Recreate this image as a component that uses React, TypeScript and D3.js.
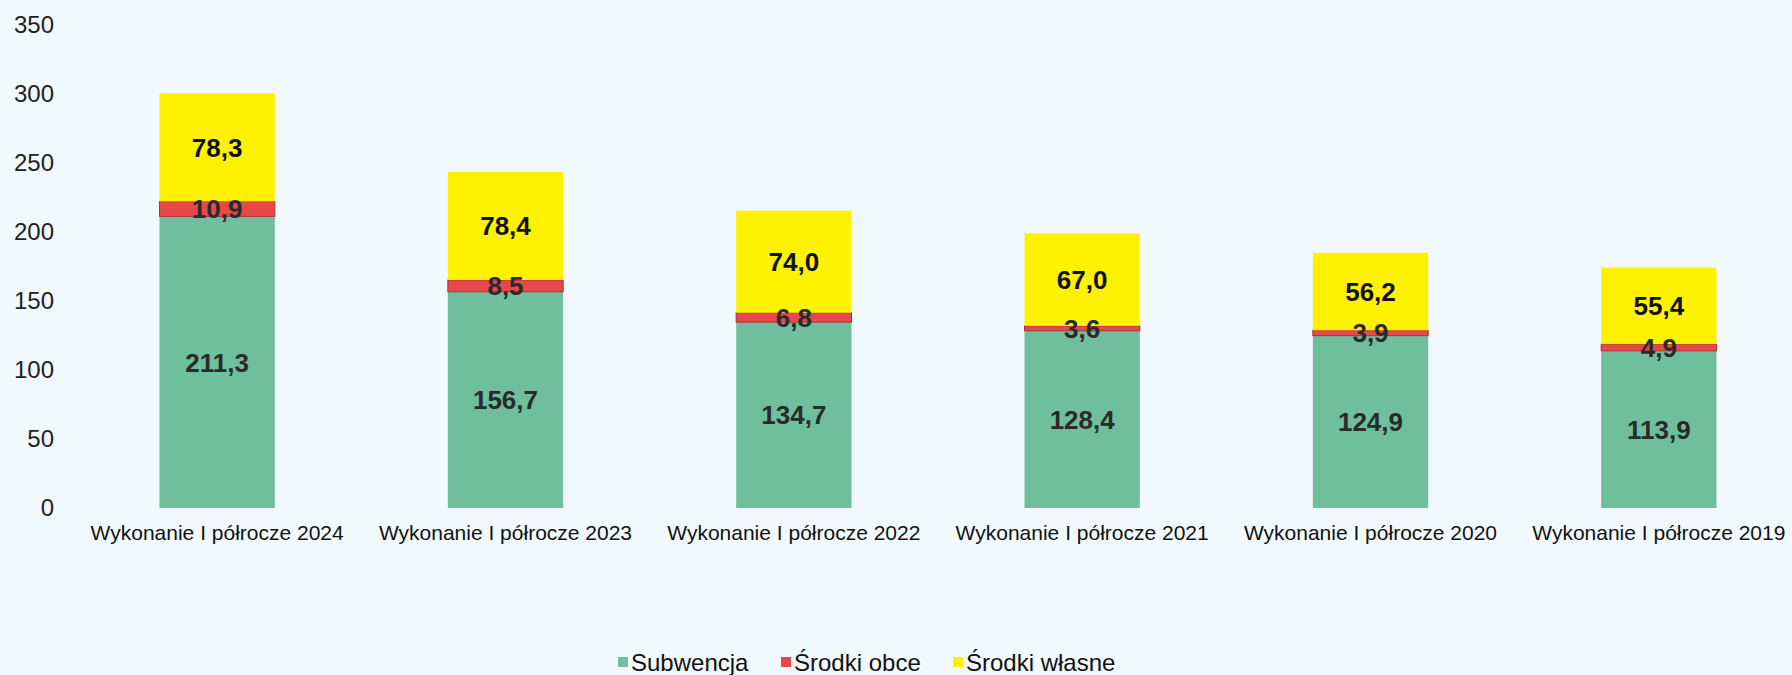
import React from "react";
import * as d3 from "d3";

const categories = [
  "Wykonanie I półrocze 2024",
  "Wykonanie I półrocze 2023",
  "Wykonanie I półrocze 2022",
  "Wykonanie I półrocze 2021",
  "Wykonanie I półrocze 2020",
  "Wykonanie I półrocze 2019",
];
const subwencja = [211.3, 156.7, 134.7, 128.4, 124.9, 113.9];
const srodkiObce = [10.9, 8.5, 6.8, 3.6, 3.9, 4.9];
const srodkiWlasne = [78.3, 78.4, 74.0, 67.0, 56.2, 55.4];
const yTicks = [0, 50, 100, 150, 200, 250, 300, 350];

const seriesNames = ["Subwencja", "Środki obce", "Środki własne"];
const seriesColors = ["#6fbf9f", "#e8484a", "#fff200"];

const W = 1792;
const H = 675;
const FONT = "'Liberation Sans', Arial, sans-serif";

export default function App() {
  const x = d3.scaleBand<string>().domain(categories).range([73, 1803]).paddingInner(0.6).paddingOuter(0.3);
  const y = d3.scaleLinear().domain([0, 350]).range([508, 25]);
  const rows = categories.map((c, i) => ({
    cat: c,
    s0: subwencja[i],
    s1: srodkiObce[i],
    s2: srodkiWlasne[i],
  }));
  const stack = d3.stack<any>().keys(["s0", "s1", "s2"]);
  const series = stack(rows);
  const fmt = (v: number) => d3.format(".1f")(v).replace(".", ",");
  const legendX = [618, 781, 953];

  return (
    <svg width={W} height={H} style={{ position: "absolute", left: 0, top: 0, background: "#f2f9fc" }}>
      <rect x={0} y={0} width={W} height={H} fill="#f2f9fc" />
      {yTicks.map((t) => (
        <text key={t} x={54} y={y(t)} dy="0.35em" textAnchor="end" fontFamily={FONT} fontSize={24} fill="#222">
          {t}
        </text>
      ))}
      {series.map((s, si) => (
        <g key={si}>
          {s.map((d, i) => (
            <rect
              key={i}
              x={x(categories[i])!}
              y={y(d[1])}
              width={x.bandwidth()}
              height={y(d[0]) - y(d[1])}
              fill={seriesColors[si]}
              stroke={si === 1 ? "#a83232" : "none"}
              strokeWidth={si === 1 ? 1 : 0}
            />
          ))}
        </g>
      ))}
      {series.map((s, si) => (
        <g key={"l" + si}>
          {s.map((d, i) => (
            <text
              key={i}
              x={x(categories[i])! + x.bandwidth() / 2}
              y={(y(d[0]) + y(d[1])) / 2}
              dy="0.36em"
              textAnchor="middle"
              fontFamily={FONT}
              fontWeight="bold"
              fontSize={26}
              fill={si === 2 ? "#111" : "#2a2a2a"}
            >
              {fmt(d[1] - d[0])}
            </text>
          ))}
        </g>
      ))}
      {categories.map((c) => (
        <text
          key={c}
          x={x(c)! + x.bandwidth() / 2}
          y={540}
          textAnchor="middle"
          fontFamily={FONT}
          fontSize={21}
          fill="#111"
        >
          {c}
        </text>
      ))}
      {seriesNames.map((n, i) => (
        <g key={n} transform={`translate(${legendX[i]},662)`}>
          <rect x={0} y={-5} width={10} height={10} fill={seriesColors[i]} />
          <text x={13} y={0} dy="0.36em" fontFamily={FONT} fontSize={24} fill="#111">
            {n}
          </text>
        </g>
      ))}
    </svg>
  );
}
